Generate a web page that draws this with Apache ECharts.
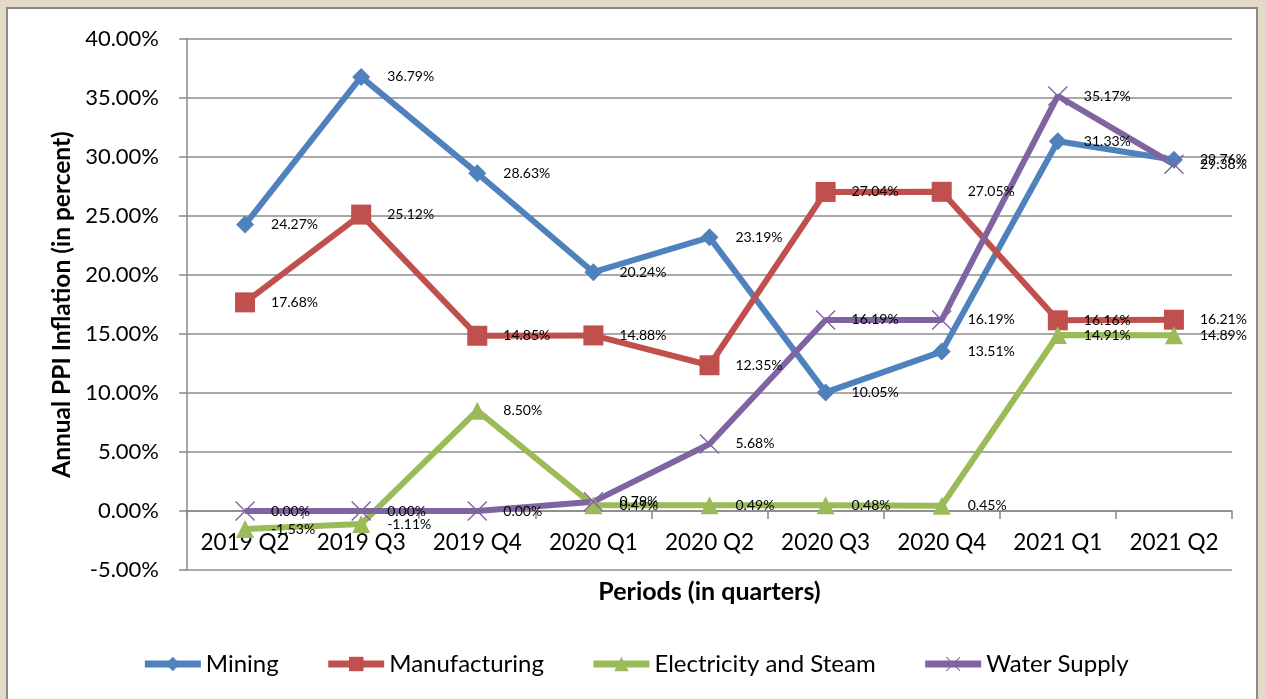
<!DOCTYPE html>
<html><head><meta charset="utf-8">
<script src="https://cdn.jsdelivr.net/npm/echarts@6/dist/echarts.min.js"></script>
<style>
html,body{margin:0;padding:0;width:1266px;height:699px;overflow:hidden;background:#e4dac8;}
#wrap{position:absolute;left:6px;top:7px;width:1252px;height:700px;background:#fff;border:2px solid #8a8a8a;box-sizing:border-box;}
#chart{position:absolute;left:-6px;top:-7px;width:1266px;height:699px;}
</style></head>
<body><div id="wrap"><div id="chart"></div></div>
<script>
const categories = ['2019 Q2','2019 Q3','2019 Q4','2020 Q1','2020 Q2','2020 Q3','2020 Q4','2021 Q1','2021 Q2'];
const mining = [24.27, 36.79, 28.63, 20.24, 23.19, 10.05, 13.51, 31.33, 29.76];
const manufacturing = [17.68, 25.12, 14.85, 14.88, 12.35, 27.04, 27.05, 16.16, 16.21];
const electricity = [-1.53, -1.11, 8.50, 0.49, 0.49, 0.48, 0.45, 14.91, 14.89];
const water = [0.00, 0.00, 0.00, 0.79, 5.68, 16.19, 16.19, 35.17, 29.38];
const seriesNames = ['Mining','Manufacturing','Electricity and Steam','Water Supply'];
const yMin = -5, yMax = 40, yStep = 5;

const FONT = 'Lato';
const xPath = 'path://M0,0.5 L0.5,0 L5,4.5 L9.5,0 L10,0.5 L5.5,5 L10,9.5 L9.5,10 L5,5.5 L0.5,10 L0,9.5 L4.5,5 Z';

const gridTop = 37, gridBottom = 131, H = 699;
const plotH = H - gridTop - gridBottom;
const zeroOffset = -plotH * (0 - yMin) / (yMax - yMin);

function mk(name, data, color, symbol, size, dist){
  return {
    name, type:'line', data, symbol, symbolSize:size,
    lineStyle:{color, width:6}, itemStyle:{color},
    label:{show:true, position:'right', distance:dist, color:'#000', fontFamily:FONT, fontSize:14,
      formatter:p=>p.value.toFixed(2)+'%'},
    z: 2
  };
}
const chart = echarts.init(document.getElementById('chart'));
chart.setOption({
  animation:false,
  grid:{left:185, right:36, top:gridTop, bottom:gridBottom},
  legend:{bottom:20, left:'center', itemWidth:56, itemHeight:18, itemGap:46,
    lineStyle:{width:7},
    textStyle:{fontFamily:FONT, fontSize:24, color:'#000'}, data:seriesNames},
  xAxis:{type:'category', data:categories, boundaryGap:true, offset:zeroOffset,
    axisLine:{onZero:false, lineStyle:{color:'#888', width:1.5}},
    axisTick:{show:true, length:8, lineStyle:{color:'#888', width:1.5}},
    axisLabel:{color:'#000', fontFamily:FONT, fontSize:22.5, margin:20},
    name:'Periods (in quarters)', nameLocation:'middle', nameGap:68,
    nameTextStyle:{fontFamily:FONT, fontSize:25, fontWeight:'bold', color:'#000'}},
  yAxis:{type:'value', min:yMin, max:yMax, interval:yStep,
    axisLine:{show:true, onZero:false, lineStyle:{color:'#888', width:1.5}},
    axisTick:{show:true, length:8, lineStyle:{color:'#888', width:1.5}},
    splitLine:{lineStyle:{color:'#8c8c8c', width:1.5}},
    axisLabel:{color:'#000', fontFamily:FONT, fontSize:22, margin:28, formatter:v=>v.toFixed(2)+'%'},
    name:'Annual PPI Inflation (in percent)', nameLocation:'middle', nameGap:112,
    nameTextStyle:{fontFamily:FONT, fontSize:24.5, fontWeight:'bold', color:'#000'}},
  series:[
    mk(seriesNames[0], mining, '#4F81BD', 'diamond', 18, 17),
    mk(seriesNames[1], manufacturing, '#C0504D', 'rect', 20, 16),
    mk(seriesNames[2], electricity, '#9BBB59', 'triangle', 18, 17),
    mk(seriesNames[3], water, '#8064A2', xPath, 20, 16)
  ]
});
</script></body></html>
